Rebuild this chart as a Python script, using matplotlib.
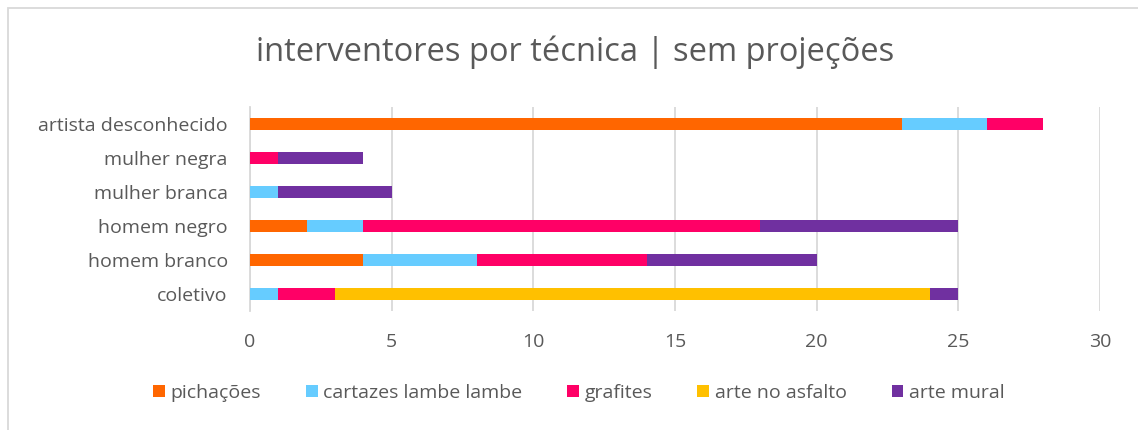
import matplotlib.pyplot as plt
from matplotlib.patches import Rectangle
import numpy as np

plt.rcParams['font.family'] = ['Open Sans', 'DejaVu Sans']

# categorias (de baixo para cima)
categorias = ['coletivo', 'homem branco', 'homem negro', 'mulher branca', 'mulher negra', 'artista desconhecido']
series = ['pichações', 'cartazes lambe lambe', 'grafites', 'arte no asfalto', 'arte mural']

pichacoes = [0, 4, 2, 0, 0, 23]
cartazes = [1, 4, 2, 1, 0, 3]
grafites = [2, 6, 14, 0, 1, 2]
asfalto = [21, 0, 0, 0, 0, 0]
mural = [1, 6, 7, 4, 3, 0]

cores = ['#FF6600', '#66CCFF', '#FF0066', '#FFC000', '#7030A0']
valores = [pichacoes, cartazes, grafites, asfalto, mural]
texto = '#595959'

fig = plt.figure(figsize=(11.38, 4.30), dpi=100)
ax = fig.add_axes([250 / 1138, 1 - 311 / 430, 850 / 1138, 204 / 430])

y = np.arange(len(categorias))
base = np.zeros(len(categorias))
for nome, vals, cor in zip(series, valores, cores):
    ax.barh(y, vals, left=base, height=0.36, color=cor, label=nome, zorder=3)
    base += np.array(vals)

ax.set_xlim(0, 30)
ax.set_ylim(-0.5, len(categorias) - 0.5)
ax.set_xticks(range(0, 31, 5))
ax.set_yticks(y)
ax.set_yticklabels(categorias)
ax.grid(axis='x', color='#D9D9D9', linewidth=1.3, zorder=0)
for s in ['top', 'right', 'bottom']:
    ax.spines[s].set_visible(False)
ax.spines['left'].set_color('#D9D9D9')
ax.spines['left'].set_linewidth(1.3)
ax.tick_params(axis='both', length=0, labelsize=14, colors=texto)
ax.tick_params(axis='y', pad=16)
ax.tick_params(axis='x', pad=16)

fig.text(575 / 1138, 1 - 52 / 430, 'interventores por técnica | sem projeções',
         ha='center', va='center', fontsize=23.5, color=texto)

leg = fig.legend(loc='center', bbox_to_anchor=(579 / 1138, 1 - 393 / 430), ncol=5,
                 frameon=False, fontsize=14, handlelength=0.6, handleheight=0.6,
                 handletextpad=0.3, columnspacing=2.3, labelcolor=texto)

# moldura do gráfico
fig.patches.append(Rectangle((8 / 1138, -0.1), 1.2, 1 - 8 / 430 + 0.1, transform=fig.transFigure,
                             fill=False, edgecolor='#D9D9D9', linewidth=1.3))

fig.savefig('out.png', dpi=100)
